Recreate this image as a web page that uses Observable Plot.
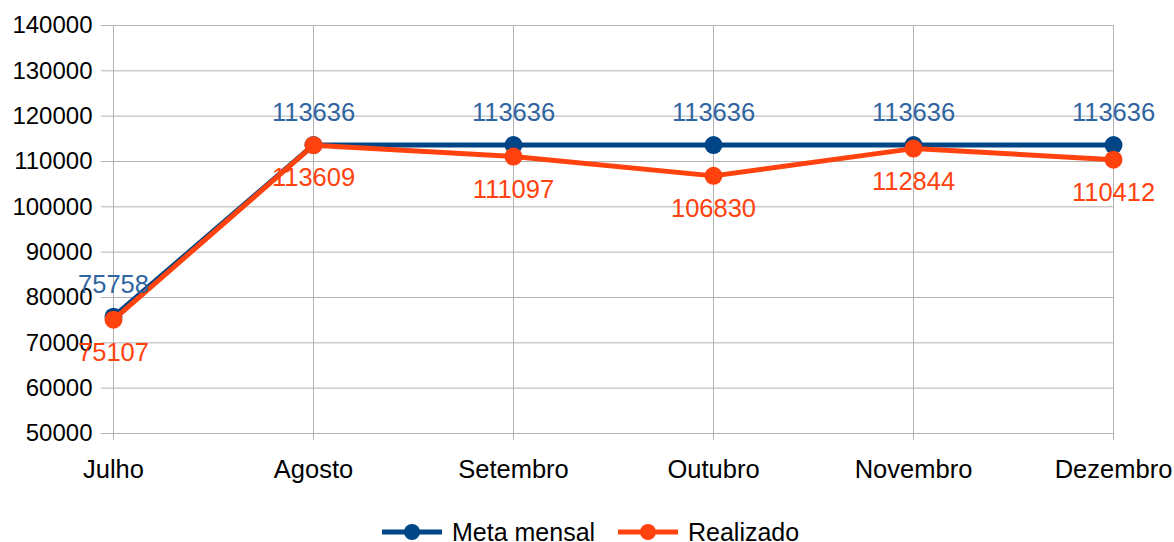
<!DOCTYPE html>
<html>
<head>
<meta charset="utf-8">
<script src="https://cdn.jsdelivr.net/npm/d3@7"></script>
<script src="https://cdn.jsdelivr.net/npm/@observablehq/plot@0.6"></script>
<style>
  html, body { margin: 0; padding: 0; background: #fff; width: 1174px; height: 542px; overflow: hidden; }
  #chart { position: absolute; left: 0; top: 0; }
  #legend { position: absolute; left: 0; top: 512px; width: 1174px; height: 40px; font-family: "Liberation Sans", Arial, sans-serif; font-size: 25px; color: #000; }
  .item { position: absolute; top: 0; display: flex; align-items: center; height: 40px; }
  .item svg { margin-right: 8px; }
</style>
</head>
<body>
<div id="chart"></div>
<div id="legend"></div>
<script>
const months = ["Julho", "Agosto", "Setembro", "Outubro", "Novembro", "Dezembro"];
const meta = [75758, 113636, 113636, 113636, 113636, 113636];
const realizado = [75107, 113609, 111097, 106830, 112844, 110412];
const yTicks = [50000, 60000, 70000, 80000, 90000, 100000, 110000, 120000, 130000, 140000];
const seriesNames = ["Meta mensal", "Realizado"];
const lineColors = ["#004586", "#ff420e"];
const labelColors = ["#2f65a0", "#ff420e"];

const metaData = months.map((m, i) => ({month: m, value: meta[i]}));
const realData = months.map((m, i) => ({month: m, value: realizado[i]}));

const grid = "#b3b3b3";
const font = "Liberation Sans, Arial, sans-serif";

const chart = Plot.plot({
  width: 1174,
  height: 512,
  marginLeft: 112,
  marginRight: 61,
  marginTop: 25,
  marginBottom: 79,
  style: {fontFamily: font, fontSize: "24px", color: "#000", background: "#fff", overflow: "visible"},
  x: {type: "point", domain: months, padding: 0, label: null},
  y: {domain: [50000, 140000], label: null},
  marks: [
    Plot.gridY(yTicks, {stroke: grid, strokeOpacity: 1, strokeWidth: 1}),
    Plot.gridX(months, {stroke: grid, strokeOpacity: 1, strokeWidth: 1}),
    Plot.axisY(yTicks, {tickSize: 11, tickPadding: 9, stroke: grid, tickFormat: d => String(d), fill: "#000", fontSize: 24, label: null}),
    Plot.axisX(months, {tickSize: 7, tickPadding: 19, stroke: grid, fill: "#000", fontSize: 25.5, label: null}),
    Plot.line(metaData, {x: "month", y: "value", stroke: lineColors[0], strokeWidth: 5}),
    Plot.dot(metaData, {x: "month", y: "value", fill: lineColors[0], r: 9}),
    Plot.line(realData, {x: "month", y: "value", stroke: lineColors[1], strokeWidth: 5}),
    Plot.dot(realData, {x: "month", y: "value", fill: lineColors[1], r: 9}),
    Plot.text(metaData, {x: "month", y: "value", text: d => String(d.value), dy: -32, fill: labelColors[0], fontSize: 25.5}),
    Plot.text(realData, {x: "month", y: "value", text: d => String(d.value), dy: 33, fill: labelColors[1], fontSize: 25.5})
  ]
});
document.getElementById("chart").appendChild(chart);

const legend = document.getElementById("legend");
const lefts = [382, 618];
seriesNames.forEach((name, i) => {
  const item = document.createElement("div");
  item.className = "item";
  item.style.left = lefts[i] + "px";
  item.innerHTML = `<svg width="62" height="20"><line x1="0" y1="10" x2="60" y2="10" stroke="${lineColors[i]}" stroke-width="5"/><circle cx="30" cy="10" r="8" fill="${lineColors[i]}"/></svg><span>${name}</span>`;
  legend.appendChild(item);
});
</script>
</body>
</html>
